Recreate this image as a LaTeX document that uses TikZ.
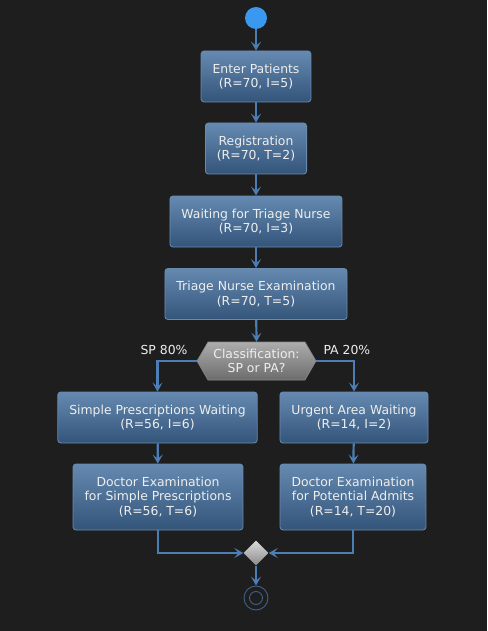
\documentclass[tikz,border=0pt]{standalone}
\usepackage{fontspec}
\setmainfont{DejaVu Sans}
\usetikzlibrary{arrows.meta,shapes.geometric}
\definecolor{bg}{HTML}{1E1E1E}
\definecolor{boxtop}{HTML}{6589B0}
\definecolor{boxbot}{HTML}{34557A}
\definecolor{boxline}{HTML}{6A8BB0}
\definecolor{flow}{HTML}{4C7DB4}
\definecolor{startc}{HTML}{3A98F0}
\definecolor{endc}{HTML}{3E6288}
\definecolor{txt}{HTML}{EEEEEE}
\definecolor{hextop}{HTML}{ADADAD}
\definecolor{hexbot}{HTML}{6C6C6C}
\definecolor{dtop}{HTML}{DADADA}
\definecolor{dbot}{HTML}{8A8A8A}
\tikzset{
  actbox/.style={rectangle, rounded corners=3pt, draw=boxline, line width=0.8pt,
    top color=boxtop, bottom color=boxbot, text=txt, align=center,
    font=\fontsize{12.4}{14.5}\selectfont, inner xsep=11.5pt, minimum height=51pt},
  tallbox/.style={actbox, minimum height=66pt},
  flowline/.style={draw=flow, line width=2.2pt, -{Stealth[length=9pt,width=10pt,inset=4pt]}},
  lbl/.style={text=txt, font=\fontsize{12.4}{14.5}\selectfont},
}
\begin{document}
\begin{tikzpicture}[x=1pt,y=-1pt]
\fill[bg] (0,0) rectangle (487,631);
\useasboundingbox (0,0) rectangle (487,631);

\node[circle, fill=startc, minimum size=22pt, inner sep=0pt] (start) at (256,18) {};
\node[actbox] (b1) at (256,76.5) {Enter Patients\\(R=70, I=5)};
\node[actbox] (b2) at (256,148.5) {Registration\\(R=70, T=2)};
\node[actbox] (b3) at (256,221.5) {Waiting for Triage Nurse\\(R=70, I=3)};
\node[actbox] (b4) at (256,294) {Triage Nurse Examination\\(R=70, T=5)};

% hexagon decision
\shade[top color=hextop, bottom color=hexbot, draw=hexbot!80!white, line width=0.6pt]
  (197,361) -- (208,342) -- (305,342) -- (316,361) -- (305,380) -- (208,380) -- cycle;
\node[rectangle, minimum width=119pt, minimum height=38pt, inner sep=0pt, text=txt, align=center,
  font=\fontsize{12.4}{14.5}\selectfont] (cls) at (256.5,361) {Classification:\\SP or PA?};
\node[lbl, anchor=east] (lsp) at (191,349.5) {SP 80\%};
\node[lbl, anchor=west] (lpa) at (320,349.5) {PA 20\%};

\node[actbox] (b5) at (157.5,417.5) {Simple Prescriptions Waiting\\(R=56, I=6)};
\node[actbox] (b6) at (354,417.5) {Urgent Area Waiting\\(R=14, I=2)};
\node[tallbox] (b7) at (158,497) {Doctor Examination\\for Simple Prescriptions\\(R=56, T=6)};
\node[tallbox] (b8) at (353,497) {Doctor Examination\\for Potential Admits\\(R=14, T=20)};

\node[diamond, top color=dtop, bottom color=dbot, minimum size=25pt, inner sep=0pt] (merge) at (256,553) {};
\node[circle, draw=endc, line width=0.9pt, minimum size=24pt, inner sep=0pt] (end) at (256,598) {};
\node[circle, draw=endc, line width=0.9pt, minimum size=13pt, inner sep=0pt] (endin) at (end) {};

\draw[flowline] (start) -- (b1);
\draw[flowline] (b1) -- (b2);
\draw[flowline] (b2) -- (b3);
\draw[flowline] (b3) -- (b4);
\draw[flowline] (b4) -- (cls.north);
\draw[flowline] (cls.west) -| (b5.north);
\draw[flowline] (cls.east) -| (b6.north);
\draw[flowline] (b5) -- (b7);
\draw[flowline] (b6) -- (b8);
\draw[flowline] (b7.south) |- (merge.west);
\draw[flowline] (b8.south) |- (merge.east);
\draw[flowline] (merge.south) -- (end.north);
\end{tikzpicture}
\end{document}
